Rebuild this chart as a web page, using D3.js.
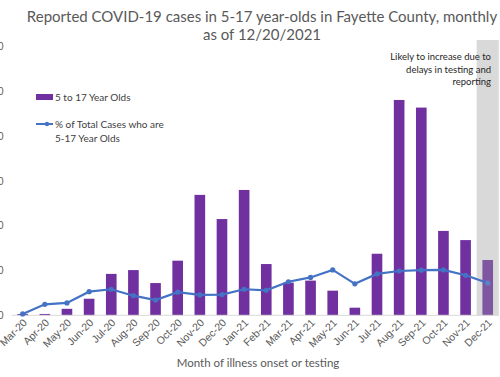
<!DOCTYPE html>
<html>
<head>
<meta charset="utf-8">
<script src="https://cdn.jsdelivr.net/npm/d3@7"></script>
<style>
  body { margin: 0; background: #fff; }
  svg { display: block; font-family: Lato, "Open Sans", sans-serif; }
</style>
</head>
<body>
<div id="chart"></div>
<script>
// Monthly cases in 5-17 year-olds and their share of all cases
const months = ["Mar-20", "Apr-20", "May-20", "Jun-20", "Jul-20", "Aug-20", "Sep-20", "Oct-20",
    "Nov-20", "Dec-20", "Jan-21", "Feb-21", "Mar-21", "Apr-21", "May-21", "Jun-21",
    "Jul-21", "Aug-21", "Sep-21", "Oct-21", "Nov-21", "Dec-21"];
const cases = [6, 6, 29, 74, 185, 202, 144, 244, 538, 430, 560, 229, 146, 155, 110, 34,
    275, 962, 928, 377, 336, 247];
const pctOfTotal = [0.5, 4.1, 4.6, 8.8, 9.7, 7.3, 5.7, 8.6, 7.6, 7.7, 9.7, 9.3, 12.5, 14.1,
    16.9, 11.7, 15.4, 16.5, 16.8, 16.9, 14.9, 12.0];
const caseTicks = [0, 200, 400, 600, 800, 1000, 1200];
const provisionalMonth = "Dec-21";
const provisionalTop = 1230;

const width = 500;
const height = 377;
const plot = { left: 11.6, right: 498.8, top: 46.7, bottom: 315.3 };

const svg = d3.select("#chart").append("svg")
    .attr("width", width)
    .attr("height", height);

const x = d3.scaleBand()
    .domain(months)
    .range([plot.left, plot.right])
    .paddingInner(0.52)
    .paddingOuter(0.26);

const y = d3.scaleLinear()
    .domain([0, 1200])
    .range([plot.bottom, plot.top]);

const yPct = d3.scaleLinear()
    .domain([0, 100])
    .range([plot.bottom, plot.top]);

// grey band behind the last (incomplete) month
const step = x.step();
svg.append("rect")
    .attr("x", x(provisionalMonth) + x.bandwidth() / 2 - step / 2)
    .attr("y", y(provisionalTop))
    .attr("width", step)
    .attr("height", y(0) - y(provisionalTop))
    .attr("fill", "#d9d9d9");

// left axis (labels run off the left edge, as in the original)
const yAxis = svg.append("g")
    .attr("transform", `translate(${plot.left},0)`)
    .call(d3.axisLeft(y).tickValues(caseTicks).tickSize(0).tickPadding(8));
yAxis.select(".domain").remove();
yAxis.selectAll("text")
    .style("font-size", "10px")
    .attr("fill", "#595959");

// bars
svg.selectAll("rect.bar")
    .data(months)
    .enter()
    .append("rect")
    .attr("class", "bar")
    .attr("x", d => x(d))
    .attr("y", (d, i) => y(cases[i]))
    .attr("width", x.bandwidth())
    .attr("height", (d, i) => y(0) - y(cases[i]))
    .attr("fill", d => d === provisionalMonth ? "#7f56a0" : "#7030a0");

// baseline
svg.append("line")
    .attr("x1", plot.left)
    .attr("x2", plot.right)
    .attr("y1", y(0))
    .attr("y2", y(0))
    .attr("stroke", "#d9d9d9")
    .attr("stroke-width", 1);

// percent line
const cx = d => x(d) + x.bandwidth() / 2;
const line = d3.line()
    .x(d => cx(d))
    .y((d, i) => yPct(pctOfTotal[i]));

svg.append("path")
    .datum(months)
    .attr("fill", "none")
    .attr("stroke", "#4472c4")
    .attr("stroke-width", 2.2)
    .attr("d", line);

svg.selectAll("circle.pt")
    .data(months)
    .enter()
    .append("circle")
    .attr("class", "pt")
    .attr("cx", d => cx(d))
    .attr("cy", (d, i) => yPct(pctOfTotal[i]))
    .attr("r", 2.6)
    .attr("fill", d => d === provisionalMonth ? "#5b84c8" : "#4472c4");

// x axis labels
const xAxis = svg.append("g")
    .attr("transform", `translate(0,${plot.bottom})`)
    .call(d3.axisBottom(x).tickSize(0).tickPadding(0));
xAxis.select(".domain").remove();
xAxis.selectAll("text")
    .attr("text-anchor", "end")
    .attr("dy", null)
    .attr("transform", "translate(5,8) rotate(-45)")
    .style("font-size", "10.5px")
    .attr("fill", "#595959");

svg.append("text")
    .attr("x", 258)
    .attr("y", 367)
    .attr("text-anchor", "middle")
    .style("font-size", "11.5px")
    .attr("fill", "#595959")
    .text("Month of illness onset or testing");

// title
const title = svg.append("text")
    .attr("text-anchor", "middle")
    .style("font-size", "15px")
    .attr("fill", "#595959");
title.append("tspan").attr("x", 262).attr("y", 22)
    .text("Reported COVID-19 cases in 5-17 year-olds in Fayette County, monthly");
title.append("tspan").attr("x", 262).attr("y", 40)
    .text("as of 12/20/2021");

// legend
const legend = svg.append("g").style("font-size", "10px").attr("fill", "#404040");
legend.append("rect")
    .attr("x", 36).attr("y", 94).attr("width", 17).attr("height", 6)
    .attr("fill", "#7030a0");
legend.append("text").attr("x", 55).attr("y", 101).text("5 to 17 Year Olds");
legend.append("line")
    .attr("x1", 36).attr("x2", 53).attr("y1", 124).attr("y2", 124)
    .attr("stroke", "#4472c4").attr("stroke-width", 2);
legend.append("circle").attr("cx", 47).attr("cy", 124).attr("r", 2.2).attr("fill", "#4472c4");
legend.append("text").attr("x", 55).attr("y", 128).text("% of Total Cases who are");
legend.append("text").attr("x", 55).attr("y", 142).text("5-17 Year Olds");

// note for the last month
const note = svg.append("text")
    .attr("text-anchor", "end")
    .style("font-size", "9.5px")
    .attr("fill", "#262626");
["Likely to increase due to", "delays in testing and", "reporting"].forEach((t, i) => {
    note.append("tspan").attr("x", 491).attr("y", 60 + i * 12.7).text(t);
});
</script>
</body>
</html>
